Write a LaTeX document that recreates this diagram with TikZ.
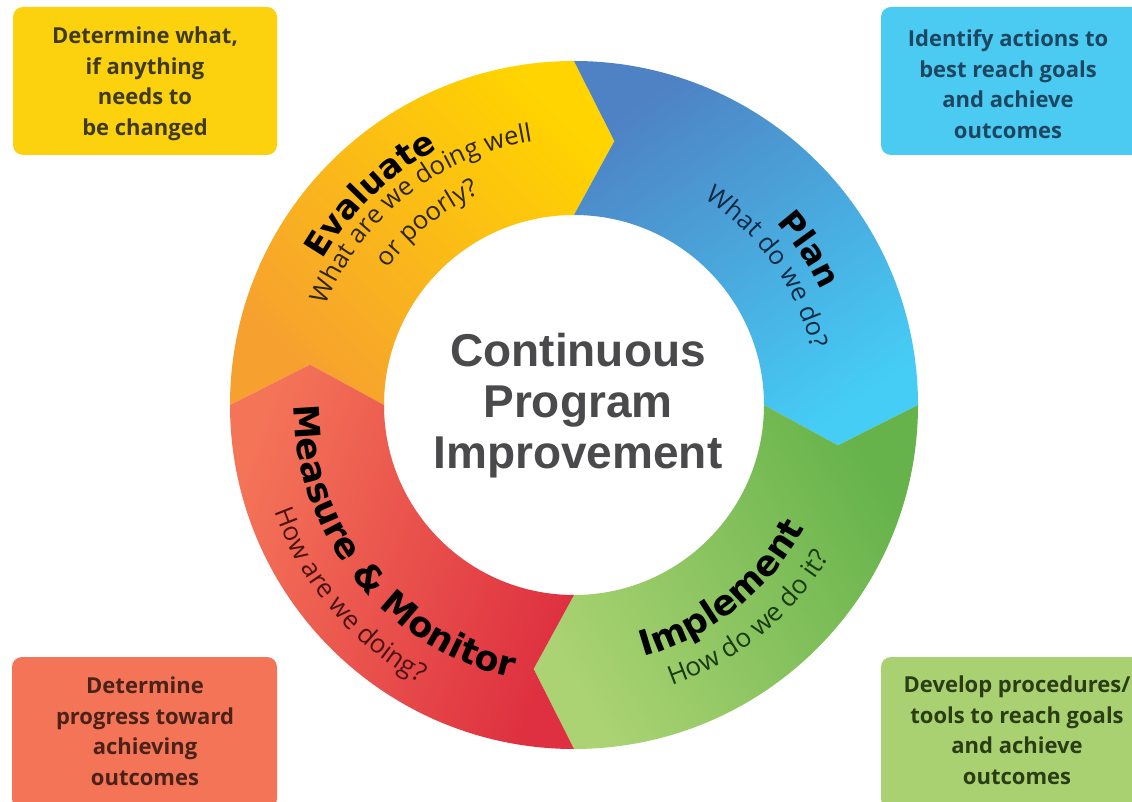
\documentclass[tikz,border=0pt]{standalone}
\usepackage{fontspec}
\setmainfont{Open Sans}
\newfontfamily\titlefont{DejaVu Sans}
\newfontfamily\subfont{Open Sans}
\newfontfamily\boxfont{Open Sans}
\newfontfamily\centerfont{Liberation Sans}
\usetikzlibrary{decorations.text}
\definecolor{yelA}{HTML}{FFD400}
\definecolor{yelB}{HTML}{F6A12F}
\definecolor{bluA}{HTML}{4E82C4}
\definecolor{bluB}{HTML}{45CDF5}
\definecolor{grnA}{HTML}{ABD373}
\definecolor{grnB}{HTML}{66B34B}
\definecolor{redA}{HTML}{F47458}
\definecolor{redB}{HTML}{DE3040}
\definecolor{boxY}{HTML}{FCD20F}
\definecolor{boxB}{HTML}{4BCBF2}
\definecolor{boxR}{HTML}{F47458}
\definecolor{boxG}{HTML}{A9D171}
\definecolor{txtY}{HTML}{3F3A1C}
\definecolor{txtB}{HTML}{1D4660}
\definecolor{txtR}{HTML}{4A2218}
\definecolor{txtG}{HTML}{2B3D14}
\definecolor{subY}{HTML}{2E2608}
\definecolor{subB}{HTML}{0E2A44}
\definecolor{subG}{HTML}{1A3A10}
\definecolor{subR}{HTML}{4A1212}
\definecolor{centergrey}{HTML}{4A4A4C}
\tikzset{
  infobox/.style={rounded corners=10pt},
  boxtext/.style={font=\boxfont\bfseries\fontsize{22}{30.5}\selectfont, align=center},
  ringtext/.style={decorate, decoration={text along path, text align=center, text={#1}}}
}
\begin{document}
\begin{tikzpicture}[x=1pt,y=1pt]
\useasboundingbox (0,0) rectangle (1132,801);
\clip (0,0) rectangle (1132,801);
\fill[white] (0,0) rectangle (1132,801);

% corner boxes
\fill[boxY, infobox] (13,646) rectangle (277,794);
\node[boxtext, text=txtY] (evalbox) at (145,717) {Determine what,\\if anything\\needs to\\be changed};
\fill[boxB, infobox] (881,646) rectangle (1142,794);
\node[boxtext, text=txtB] (planbox) at (1008,717) {Identify actions to\\best reach goals\\and achieve\\outcomes};
\fill[boxR, infobox] (12,-8) rectangle (277,144);
\node[boxtext, text=txtR] (measbox) at (145,70) {Determine\\progress toward\\achieving\\outcomes};
\fill[boxG, infobox] (881,-8) rectangle (1142,144);
\node[boxtext, text=txtG] (implbox) at (1017,71) {Develop procedures/\\tools to reach goals\\and achieve\\outcomes};

\begin{scope}[shift={(574,396)}]
% Evaluate (yellow)
\shade[top color=yelA, bottom color=yelB, shading angle=-45]
  (180:344pt) arc[start angle=180, end angle=90, radius=344pt] -- (81.3:267pt)
  -- (90:190pt) arc[start angle=90, end angle=180, radius=190pt] -- (171.3:267pt) -- cycle;
% Plan (blue)
\shade[top color=bluA, bottom color=bluB, shading angle=35]
  (90:344pt) arc[start angle=90, end angle=0, radius=344pt] -- (-8.7:267pt)
  -- (0:190pt) arc[start angle=0, end angle=90, radius=190pt] -- (81.3:267pt) -- cycle;
% Implement (green)
\shade[top color=grnB, bottom color=grnA, shading angle=-60]
  (0:344pt) arc[start angle=0, end angle=-90, radius=344pt] -- (-98.7:267pt)
  -- (-90:190pt) arc[start angle=-90, end angle=0, radius=190pt] -- (-8.7:267pt) -- cycle;
% Measure & Monitor (red)
\shade[top color=redA, bottom color=redB, shading angle=70]
  (-90:344pt) arc[start angle=-90, end angle=-180, radius=344pt] -- (171.3:267pt)
  -- (180:190pt) arc[start angle=180, end angle=270, radius=190pt] -- (-98.7:267pt) -- cycle;

% ring texts
\path[ringtext={|\titlefont\bfseries\fontsize{33}{33}\selectfont\color{black}|Evaluate}]
  (194:290pt) arc[start angle=194, end angle=74, radius=290pt];
\path[ringtext={|\subfont\fontsize{25.5}{25.5}\selectfont\color{subY}|What are we doing well}]
  (198.5:267pt) arc[start angle=198.5, end angle=58.5, radius=267pt];
\path[ringtext={|\subfont\fontsize{25.5}{25.5}\selectfont\color{subY}|or poorly?}]
  (189:231pt) arc[start angle=189, end angle=69, radius=231pt];

\path[ringtext={|\titlefont\bfseries\fontsize{33}{33}\selectfont\color{black}|Plan}]
  (93.5:272pt) arc[start angle=93.5, end angle=-26.5, radius=272pt];
\path[ringtext={|\subfont\fontsize{25.5}{25.5}\selectfont\color{subB}|What do we do?}]
  (100.5:244pt) arc[start angle=100.5, end angle=-29.5, radius=244pt];

\path[ringtext={|\titlefont\bfseries\fontsize{35}{35}\selectfont\color{black}|Implement}]
  (-111.3:261pt) arc[start angle=-111.3, end angle=8.7, radius=261pt];
\path[ringtext={|\subfont\fontsize{26}{26}\selectfont\color{subG}|How do we do it?}]
  (-115.8:297pt) arc[start angle=-115.8, end angle=14.2, radius=297pt];

\path[ringtext={|\titlefont\bfseries\fontsize{35}{35}\selectfont\color{black}|Measure {\&} Monitor}]
  (158.65:280pt) arc[start angle=158.65, end angle=278.65, radius=280pt];
\path[ringtext={|\subfont\fontsize{26}{26}\selectfont\color{subR}|How are we doing?}]
  (155.3:318pt) arc[start angle=155.3, end angle=285.3, radius=318pt];
\end{scope}

\node[font=\centerfont\bfseries\fontsize{46}{51}\selectfont, text=centergrey, align=center] (title) at (578,395) {Continuous\\Program\\Improvement};
\end{tikzpicture}
\end{document}
